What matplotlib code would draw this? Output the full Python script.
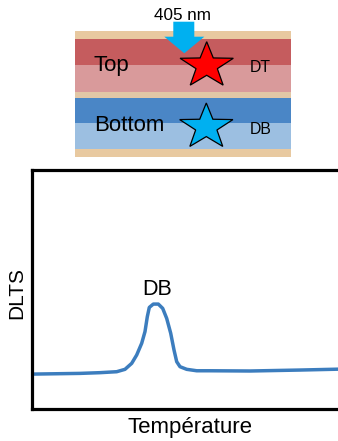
import numpy as np
import matplotlib
matplotlib.use("Agg")
import matplotlib.pyplot as plt
from matplotlib.patches import Rectangle, Polygon

plt.rcParams['font.family'] = ['Liberation Sans', 'DejaVu Sans']

# ---- data (curve) ----
temperature = [0, 48, 68, 84.7, 93, 99.7, 104.7, 109.7, 113, 115.3, 117.3, 121.3, 126.3,
               130.7, 134.7, 138.7, 142, 144.7, 148, 154.7, 164.7, 178, 218, 268, 310]
dlts = [14.6, 14.9, 15.2, 15.6, 16.6, 19.1, 22.6, 27.5, 32.4, 38.6, 42.5, 43.9, 43.9,
        42.1, 37.9, 31.7, 24.7, 19.8, 17.7, 16.6, 16.0, 16.0, 15.9, 16.3, 16.7]
peak_label = "DB"
x_label = "Température"
y_label = "DLTS"

# diagram layers: (top px, bottom px, colour)
layer_tops = [31, 39, 65, 92, 98, 123, 148.7]
layer_bottoms = [39, 65, 92, 98, 123, 148.7, 157]
layer_colors = ['#E8C9A0', '#C55C5E', '#D99A9B', '#E2C7A6', '#4A86C6', '#9CBFE1', '#E8C9A0']

W, H = 338, 441
fig = plt.figure(figsize=(W / 100, H / 100), dpi=100)

# ---- overlay for diagram in pixel coordinates ----
ov = fig.add_axes([0, 0, 1, 1])
ov.set_xlim(0, W)
ov.set_ylim(H, 0)
ov.axis('off')

x0, x1 = 75, 291
for t, b, c in zip(layer_tops, layer_bottoms, layer_colors):
    ov.add_patch(Rectangle((x0, t), x1 - x0, b - t, facecolor=c, edgecolor='none', zorder=1))

# arrow
arrow = [(173.3, 21.7), (194.3, 21.7), (194.3, 36.7), (204.3, 36.7), (184.3, 53.3),
         (164.3, 36.7), (173.3, 36.7)]
ov.add_patch(Polygon(arrow, closed=True, facecolor='#00B0F0', edgecolor='none', zorder=2))
ov.text(183, 15, "405 nm", fontsize=12.3, ha='center', va='center', zorder=5)


def star(cx, top, rx, ry, ratio=0.4):
    pts = []
    cy = top + ry
    for k in range(10):
        ang = np.pi / 2 + k * np.pi / 5
        r = 1.0 if k % 2 == 0 else ratio
        pts.append((cx + rx * r * np.cos(ang), cy - ry * r * np.sin(ang)))
    return pts


ov.add_patch(Polygon(star(206.7, 41.7, 28, 24), closed=True, facecolor='#FF0000',
                     edgecolor='black', linewidth=0.9, zorder=3))
ov.add_patch(Polygon(star(206.3, 103, 28, 24), closed=True, facecolor='#00B0F0',
                     edgecolor='black', linewidth=0.9, zorder=3))

ov.text(93, 65, "Top", fontsize=16, ha='left', va='center', zorder=5)
ov.text(94, 125.5, "Bottom", fontsize=16, ha='left', va='center', zorder=5)
ov.text(250, 67.5, "DT", fontsize=11.3, ha='left', va='center', zorder=5)
ov.text(250, 130, "DB", fontsize=11.3, ha='left', va='center', zorder=5)

# ---- chart ----
ax_left, ax_right, ax_top, ax_bot = 32, 348, 170, 409
ax = fig.add_axes([ax_left / W, 1 - ax_bot / H, (ax_right - ax_left) / W, (ax_bot - ax_top) / H])
ax.plot(temperature, dlts, color='#3C7DBE', linewidth=2.5, solid_capstyle='butt',
        solid_joinstyle='round')
ax.set_xlim(0, ax_right - ax_left)
ax.set_ylim(0, 100)
ax.set_xticks([])
ax.set_yticks([])
for s in ax.spines.values():
    s.set_linewidth(2.3)
    s.set_color('black')
ax.set_facecolor('none')
ax.text(125.5, 49.8, peak_label, fontsize=15.5, ha='center', va='center')

fig.text(190 / W, 1 - 427 / H, x_label, fontsize=16, ha='center', va='center')
fig.text(17 / W, 1 - 293 / H, y_label, fontsize=15, ha='center', va='center', rotation=90)

fig.savefig("out.png", dpi=100)
